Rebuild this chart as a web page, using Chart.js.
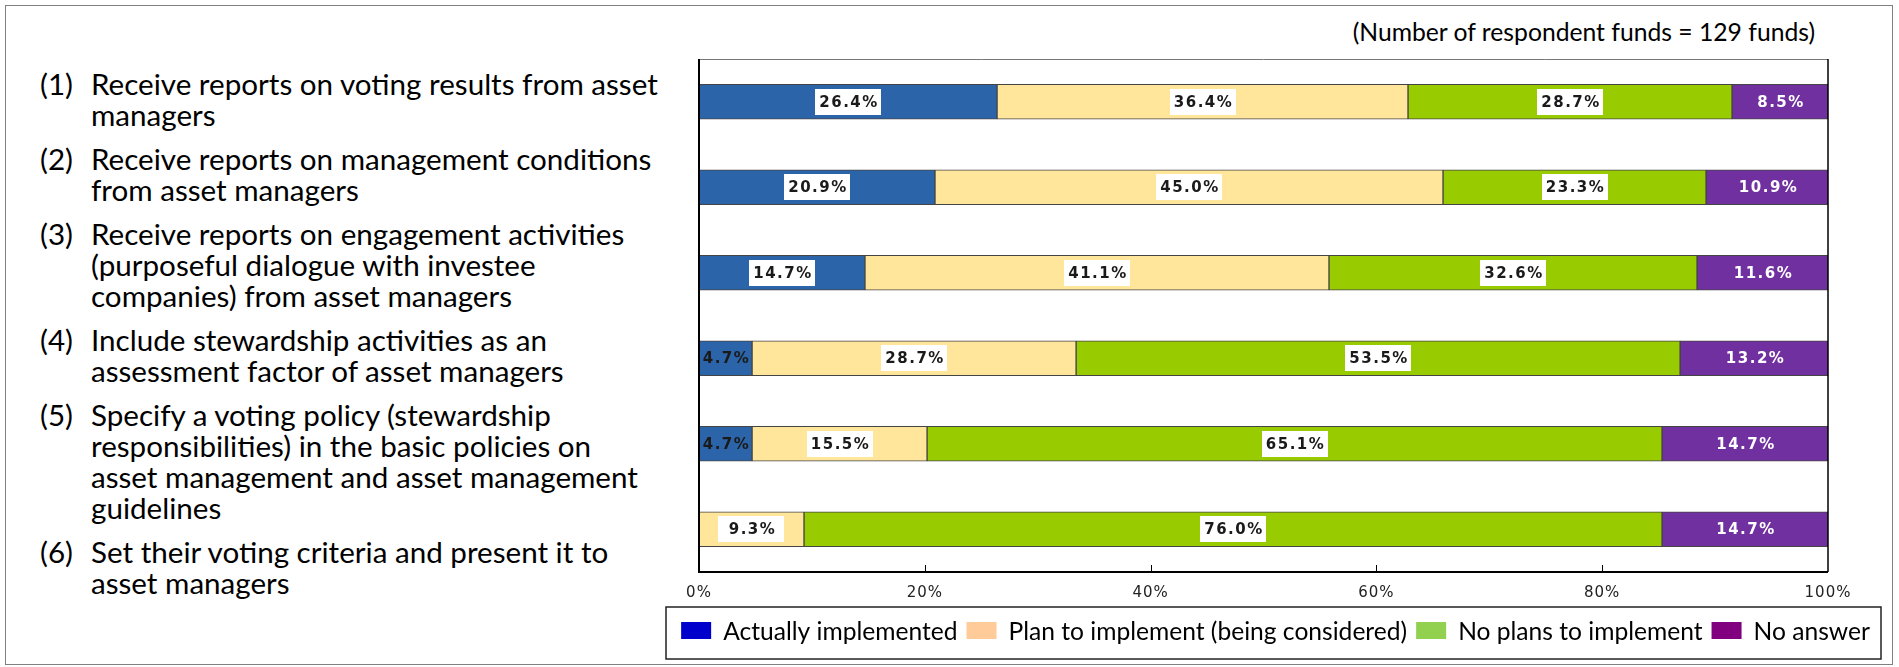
<!DOCTYPE html>
<html>
<head>
<meta charset="utf-8">
<title>Stewardship activities toward asset managers</title>
<script src="https://cdn.jsdelivr.net/npm/chart.js@4.4.0/dist/chart.umd.min.js"></script>
<style>
    html, body { margin: 0; padding: 0; background: #fff; }
    #wrap { position: relative; width: 1899px; height: 667px; overflow: hidden; }
    #frame { position: absolute; left: 5px; top: 5px; width: 1886px; height: 658px; border: 1px solid #808080; }
    #note { position: absolute; right: 84px; top: 17px; font: 24.7px/30px Lato, sans-serif; color: #000; white-space: nowrap; }
    #items { position: absolute; left: 40px; top: 68px; width: 640px; font: 29.6px/31px Lato, sans-serif; color: #000; }
    .item { display: flex; margin-bottom: 13px; white-space: nowrap; }
    .item .num { width: 51px; flex: none; }
    canvas { position: absolute; left: 0; top: 0; }
</style>
</head>
<body>
<div id="wrap">
    <div id="frame"></div>
    <div id="note">(Number of respondent funds = 129 funds)</div>
    <div id="items"></div>
    <canvas id="Fund_Chart" width="1899" height="667"></canvas>
</div>
<script>
// survey items, one array of text lines per item
const categories = [
    ['Receive reports on voting results from asset', 'managers'],
    ['Receive reports on management conditions', 'from asset managers'],
    ['Receive reports on engagement activities', '(purposeful dialogue with investee', 'companies) from asset managers'],
    ['Include stewardship activities as an', 'assessment factor of asset managers'],
    ['Specify a voting policy (stewardship', 'responsibilities) in the basic policies on', 'asset management and asset management', 'guidelines'],
    ['Set their voting criteria and present it to', 'asset managers']
];

const seriesNames = ['Actually implemented', 'Plan to implement (being considered)', 'No plans to implement', 'No answer'];

// share of funds (%)
const implemented = [26.4, 20.9, 14.7, 4.7, 4.7, 0];
const planned     = [36.4, 45.0, 41.1, 28.7, 15.5, 9.3];
const noPlans     = [28.7, 23.3, 32.6, 53.5, 65.1, 76.0];
const noAnswer    = [8.5, 10.9, 11.6, 13.2, 14.7, 14.7];

const xTicks = [0, 20, 40, 60, 80, 100];

const barColors = ['#2C64AA', '#FFE69B', '#99CC00', '#7030A0'];
const legendColors = ['#0000CC', '#FFCC99', '#92D050', '#800080'];

// left hand item list
const itemList = document.getElementById('items');
categories.forEach((lines, i) => {
    const row = document.createElement('div');
    row.className = 'item';
    row.innerHTML = '<span class="num">(' + (i + 1) + ')</span><span>' + lines.join('<br>') + '</span>';
    itemList.appendChild(row);
});

// wider spacing for the axis tick text
const tickSpacing = {
    id: 'tickSpacing',
    beforeDraw(chart) { chart.ctx.letterSpacing = '1px'; },
    beforeDatasetsDraw(chart) { chart.ctx.letterSpacing = '0px'; }
};

// box round the plot + small inward ticks on the bottom axis
const plotFrame = {
    id: 'plotFrame',
    afterDatasetsDraw(chart) {
        const { ctx, chartArea: a } = chart;
        const xs = chart.scales.x;
        ctx.save();
        ctx.strokeStyle = '#777';
        ctx.lineWidth = 1;
        ctx.beginPath();
        ctx.moveTo(a.left, a.top + 0.5);
        ctx.lineTo(a.right, a.top + 0.5);
        ctx.stroke();

        ctx.strokeStyle = '#000';
        ctx.lineWidth = 2;
        ctx.beginPath();
        ctx.moveTo(a.left, a.top);
        ctx.lineTo(a.left, a.bottom);
        ctx.lineTo(a.right, a.bottom);
        ctx.stroke();

        ctx.lineWidth = 1.5;
        ctx.beginPath();
        ctx.moveTo(a.right, a.top);
        ctx.lineTo(a.right, a.bottom);
        ctx.stroke();

        ctx.lineWidth = 1;
        xTicks.slice(1, -1).forEach(v => {
            const px = Math.round(xs.getPixelForValue(v)) + 0.5;
            ctx.beginPath();
            ctx.moveTo(px, a.bottom);
            ctx.lineTo(px, a.bottom - 7);
            ctx.stroke();
        });
        ctx.restore();
    }
};

// value labels in the middle of every segment
const segmentLabels = {
    id: 'segmentLabels',
    afterDatasetsDraw(chart) {
        const ctx = chart.ctx;
        ctx.save();
        ctx.font = 'bold 15px "DejaVu Sans"';
        ctx.letterSpacing = '1.5px';
        ctx.textAlign = 'center';
        ctx.textBaseline = 'middle';
        chart.data.datasets.forEach((ds, di) => {
            chart.getDatasetMeta(di).data.forEach((bar, i) => {
                const v = ds.data[i];
                if (!v) return;
                const cx = (bar.x + bar.base) / 2;
                const w = Math.abs(bar.x - bar.base);
                const text = v.toFixed(1) + '%';
                if (di === 3) {
                    ctx.fillStyle = '#fff';
                } else {
                    if (w > 70) {
                        ctx.fillStyle = '#fff';
                        ctx.fillRect(Math.round(cx - 33), Math.round(bar.y - 13), 66, 26);
                    }
                    ctx.fillStyle = '#1a1a1a';
                }
                ctx.fillText(text, cx + 1, bar.y + 1);
            });
        });
        ctx.restore();
    }
};

// legend in a bordered box under the axis
const boxedLegend = {
    id: 'boxedLegend',
    afterDraw(chart) {
        const { ctx, chartArea: a } = chart;
        ctx.save();
        ctx.font = '24.6px Lato';
        ctx.textBaseline = 'alphabetic';
        const sq = 30, gap = 12, space = 9;
        const widths = seriesNames.map(n => ctx.measureText(n).width);
        const total = widths.reduce((s, w) => s + w, 0) + seriesNames.length * (sq + gap) + (seriesNames.length - 1) * space;
        const center = (a.left + a.right) / 2 + 12;
        const top = a.bottom + 35;
        let x = center - total / 2;

        ctx.strokeStyle = '#222';
        ctx.lineWidth = 1.5;
        ctx.strokeRect(Math.round(x - 15), top, Math.round(total + 26), 52);

        seriesNames.forEach((name, i) => {
            ctx.fillStyle = legendColors[i];
            ctx.fillRect(x, top + 15, sq, 17);
            ctx.fillStyle = '#000';
            ctx.fillText(name, x + sq + gap, top + 33);
            x += sq + gap + widths[i] + space;
        });
        ctx.restore();
    }
};

const ctx = document.getElementById('Fund_Chart').getContext('2d');

new Chart(ctx, {
    type: 'bar',
    data: {
        labels: categories,
        datasets: [
            { label: seriesNames[0], data: implemented, backgroundColor: barColors[0] },
            { label: seriesNames[1], data: planned, backgroundColor: barColors[1] },
            { label: seriesNames[2], data: noPlans, backgroundColor: barColors[2] },
            { label: seriesNames[3], data: noAnswer, backgroundColor: barColors[3] }
        ]
    },
    options: {
        indexAxis: 'y',
        responsive: false,
        animation: false,
        datasets: {
            bar: {
                barThickness: 35,
                borderColor: '#444',
                borderWidth: 1,
                borderSkipped: false
            }
        },
        layout: {
            padding: { left: 699, right: 71, top: 59, bottom: 55 }
        },
        scales: {
            x: {
                stacked: true,
                min: 0,
                max: 100,
                grid: { display: false, drawTicks: false },
                border: { display: false },
                afterBuildTicks: scale => {
                    scale.ticks = xTicks.map(v => ({ value: v }));
                },
                afterFit: scale => {
                    scale.height = 40;
                },
                ticks: {
                    padding: 12,
                    color: '#222',
                    maxRotation: 0,
                    font: { family: 'DejaVu Sans', size: 15 },
                    callback: v => v + '%'
                }
            },
            y: {
                stacked: true,
                display: false
            }
        },
        plugins: {
            legend: { display: false },
            title: { display: false },
            tooltip: { enabled: false }
        }
    },
    plugins: [tickSpacing, plotFrame, segmentLabels, boxedLegend]
});
</script>
</body>
</html>
